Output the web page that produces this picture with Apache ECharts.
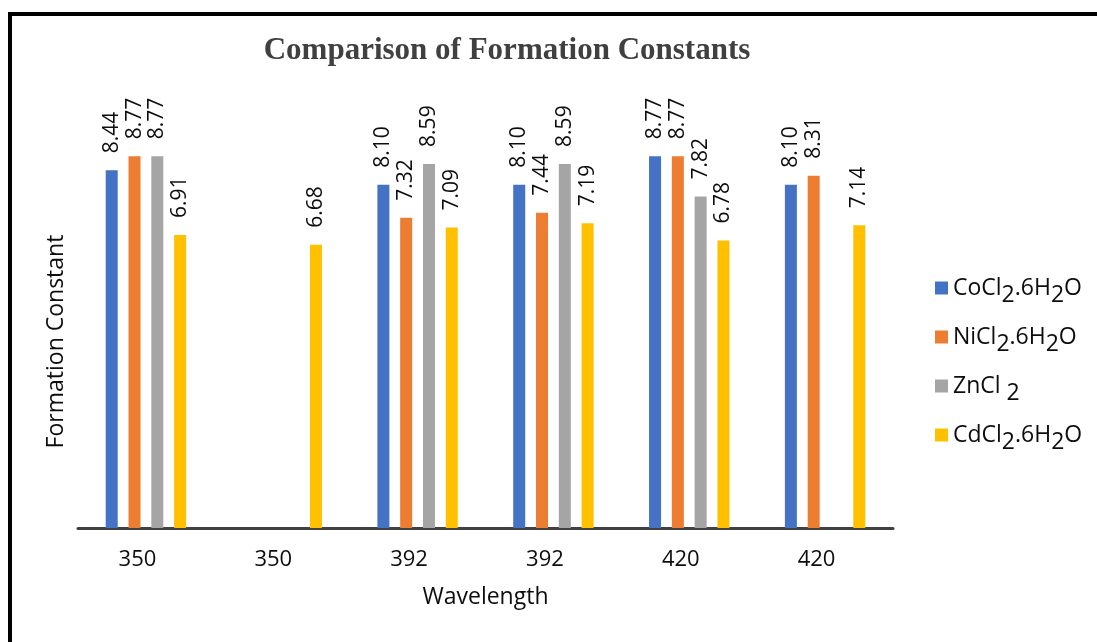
<!DOCTYPE html>
<html>
<head>
<meta charset="utf-8">
<script src="https://cdn.jsdelivr.net/npm/echarts@6/dist/echarts.min.js"></script>
<style>html,body{margin:0;padding:0;background:#fff;}#c{width:1097px;height:642px;}</style>
</head>
<body>
<div id="c"></div>
<script>
const categories = ['350', '350', '392', '392', '420', '420'];
const seriesNames = ['CoCl2.6H2O', 'NiCl2.6H2O', 'ZnCl2', 'CdCl2.6H2O'];
const legendLabels = ['CoCl{s|2}.6H{s|2}O', 'NiCl{s|2}.6H{s|2}O', 'ZnCl {s|2}', 'CdCl{s|2}.6H{s|2}O'];
const coValues = [8.44, null, 8.10, 8.10, 8.77, 8.10];
const niValues = [8.77, null, 7.32, 7.44, 8.77, 8.31];
const znValues = [8.77, null, 8.59, 8.59, 7.82, null];
const cdValues = [6.91, 6.68, 7.09, 7.19, 6.78, 7.14];
const colors = ['#4472C4', '#ED7D31', '#A5A5A5', '#FFC000'];

const allValues = [coValues, niValues, znValues, cdValues];
const font = '"Open Sans", "Noto Sans", sans-serif';
const textColor = '#0d0d0d';

const chart = echarts.init(document.getElementById('c'), null, {renderer: 'canvas'});
const series = allValues.map((vals, i) => ({
  name: seriesNames[i],
  type: 'bar',
  data: vals,
  barWidth: 12,
  barGap: '90%',
  itemStyle: {color: colors[i]},
  label: {
    show: true,
    position: 'top',
    rotate: 90,
    align: 'left',
    verticalAlign: 'middle',
    distance: 17,
    color: textColor,
    fontFamily: font,
    fontSize: 21,
    formatter: p => (p.value == null ? '' : Number(p.value).toFixed(2))
  }
}));

chart.setOption({
  animation: false,
  backgroundColor: '#fff',
  color: colors,
  title: {
    text: 'Comparison of Formation Constants',
    left: 502,
    top: 30,
    textAlign: 'center',
    textStyle: {fontFamily: '"Liberation Serif", "Times New Roman", serif', fontWeight: 'bold', fontSize: 31, color: '#404040'}
  },
  graphic: [{
    type: 'rect',
    shape: {x: 10, y: 14, width: 1200, height: 800},
    style: {fill: 'none', stroke: '#000', lineWidth: 4},
    silent: true,
    z: 100
  }],
  legend: {
    orient: 'vertical',
    left: 930,
    top: 264,
    itemWidth: 13,
    itemHeight: 13,
    itemGap: 11,
    icon: 'rect',
    data: seriesNames,
    formatter: name => legendLabels[seriesNames.indexOf(name)],
    textStyle: {
      fontFamily: font,
      fontSize: 23,
      color: textColor,
      lineHeight: 38,
      rich: {
        s: {fontFamily: font, fontSize: 23, color: textColor, lineHeight: 23, verticalAlign: 'bottom'}
      }
    }
  },
  grid: {left: 78, right: 204, top: 155, bottom: 114, containLabel: false},
  xAxis: {
    type: 'category',
    data: categories,
    name: 'Wavelength',
    nameLocation: 'middle',
    nameGap: 58,
    nameTextStyle: {fontFamily: font, fontSize: 23, color: textColor},
    axisLine: {show: true, lineStyle: {color: '#404040', width: 3}},
    axisTick: {show: false},
    axisLabel: {
      margin: 21,
      formatter: '{a|{value}}',
      rich: {a: {fontFamily: font, fontSize: 22, color: textColor, padding: [0, 17, 0, 0]}}
    }
  },
  yAxis: {
    type: 'value',
    min: 0,
    max: 8.8,
    name: 'Formation Constant',
    nameLocation: 'middle',
    nameRotate: 90,
    nameGap: 10,
    nameTextStyle: {fontFamily: font, fontSize: 23, color: textColor},
    axisLine: {show: false},
    axisTick: {show: false},
    axisLabel: {show: false},
    splitLine: {show: false}
  },
  series: series
});
</script>
</body>
</html>
